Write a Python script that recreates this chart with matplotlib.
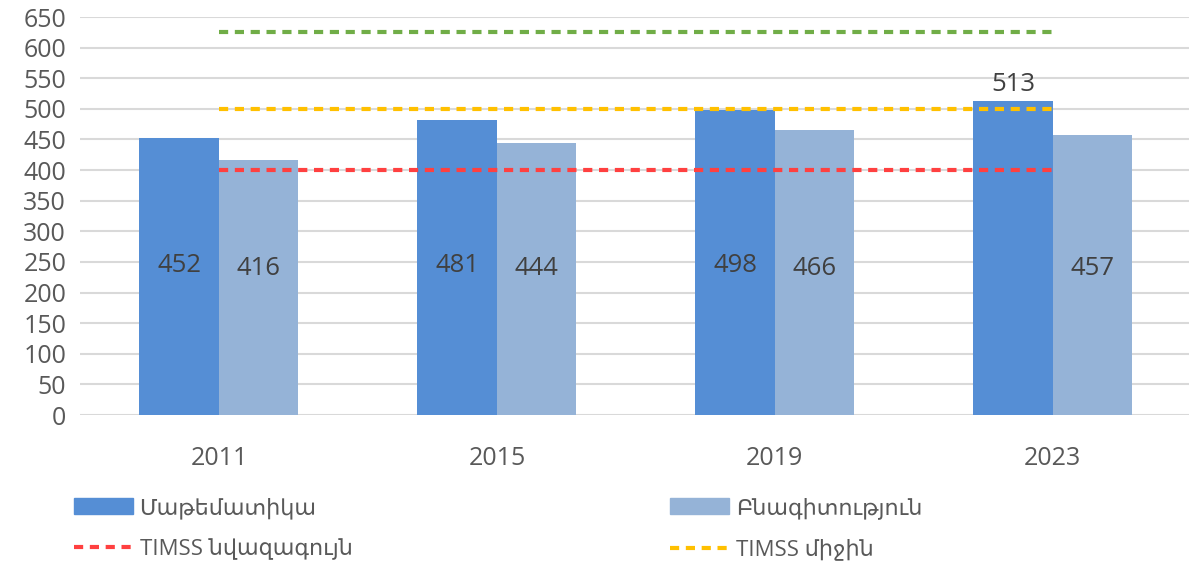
import numpy as np
import matplotlib
matplotlib.use("Agg")
import matplotlib.pyplot as plt
from matplotlib.patches import Patch
from matplotlib.lines import Line2D

plt.rcParams['font.family'] = ['Open Sans', 'DejaVu Sans']

# data
years = ["2011", "2015", "2019", "2023"]
math_scores = [452, 481, 498, 513]
science_scores = [416, 444, 466, 457]
timss_low = 400
timss_mid = 500
timss_adv = 625

math_name = "Մաթեմատիկա"
sci_name = "Բնագիտություն"
low_name = "TIMSS նվազագույն"
mid_name = "TIMSS միջին"

c_math = "#558ed5"
c_sci = "#95b3d7"
c_low = "#ff4040"
c_mid = "#ffc000"
c_adv = "#70ad47"
txt = "#595959"
lab = "#404040"
dash = (0, (2.2, 1.6))

fig = plt.figure(figsize=(11.89, 5.67), dpi=100)
ax = fig.add_axes([0.0673, 0.268, 0.935, 0.702])

x = np.arange(len(years))
w = 0.286
ax.bar(x - w / 2, math_scores, w, color=c_math, zorder=2)
ax.bar(x + w / 2, science_scores, w, color=c_sci, zorder=2)

ax.plot(x, [timss_low] * len(x), ls=dash, color=c_low, lw=3, zorder=3)
ax.plot(x, [timss_mid] * len(x), ls=dash, color=c_mid, lw=3, zorder=3)
ax.plot(x, [timss_adv] * len(x), ls=dash, color=c_adv, lw=3, zorder=3)

# value labels (Excel puts the inside ones at about the same height)
lab_y = 242
for i, v in enumerate(math_scores):
    if i == len(math_scores) - 1:
        ax.text(x[i] - w / 2, v + 6, str(v), ha="center", va="bottom", fontsize=18.5, color=lab)
    else:
        ax.text(x[i] - w / 2, lab_y + 2, str(v), ha="center", va="center", fontsize=18.5, color=lab)
for i, v in enumerate(science_scores):
    ax.text(x[i] + w / 2, lab_y - 2, str(v), ha="center", va="center", fontsize=18.5, color=lab)

ax.set_xlim(-0.5, 3.5)
ax.set_ylim(0, 650)
ax.set_yticks(np.arange(0, 651, 50))
ax.set_xticks(x)
ax.set_xticklabels(years)
ax.tick_params(axis="both", length=0, labelsize=18, colors=txt)
ax.tick_params(axis="x", pad=22)
ax.tick_params(axis="y", pad=10)
ax.grid(axis="y", color="#d9d9d9", lw=1.5, zorder=0)
ax.set_axisbelow(True)
for s in ax.spines.values():
    s.set_visible(False)

handles = [
    Patch(color=c_math, label=math_name),
    Line2D([], [], color=c_low, lw=3, ls=dash, label=low_name),
    Patch(color=c_sci, label=sci_name),
    Line2D([], [], color=c_mid, lw=3, ls=dash, label=mid_name),
]
fig.legend(handles=handles, ncol=2, loc="upper left", bbox_to_anchor=(0.0622, 0.123),
           frameon=False, fontsize=16, labelcolor=txt, handlelength=2.65,
           handleheight=0.75, handletextpad=0.3, columnspacing=14.3, labelspacing=0.88,
           borderpad=0, borderaxespad=0)

fig.savefig("out.png", dpi=100)
